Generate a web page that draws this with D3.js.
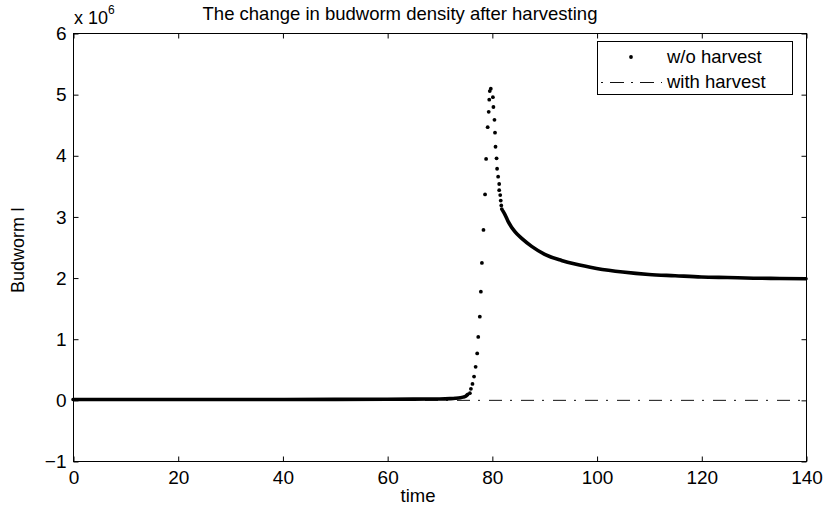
<!DOCTYPE html>
<html>
<head>
<meta charset="utf-8">
<script src="https://cdn.jsdelivr.net/npm/d3@7"></script>
<style>
  body { margin: 0; background: #fff; }
  svg { display: block; font-family: "Liberation Sans", Arial, sans-serif; }
</style>
</head>
<body>
<svg id="chart" width="826" height="506"></svg>
<script>
// budworm density I (x 10^6) vs time

// pre-outbreak part, dense dots (looks like a solid thick line)
var lowTime = [0, 10, 20, 30, 40, 50, 60, 65, 70, 72, 73, 74, 74.5, 75, 75.4];
var lowBud  = [0.005, 0.005, 0.006, 0.006, 0.007, 0.008, 0.01, 0.012, 0.015, 0.02, 0.025, 0.035, 0.045, 0.06, 0.09];

// outbreak, sparse dots that can be told apart
var peakTime = [75.8, 76.0, 76.3, 76.6, 76.9, 77.2, 77.4, 77.7, 77.9, 78.1, 78.4, 78.7, 78.9, 79.2, 79.4, 79.5, 79.6, 79.8,
                80.2, 80.3, 80.5, 80.6, 80.7, 80.9, 81.0, 81.2, 81.4, 81.4, 81.6, 81.7, 81.8, 81.9];
var peakBud  = [0.11, 0.18, 0.26, 0.38, 0.54, 0.76, 1.03, 1.36, 1.77, 2.24, 2.78, 3.36, 3.94, 4.46, 4.71, 4.91, 5.05, 5.09,
                4.95, 4.79, 4.58, 4.37, 4.14, 3.95, 3.78, 3.65, 3.53, 3.43, 3.35, 3.26, 3.18, 3.12];

// decay towards the steady state, dense dots again
var tailTime = [82.1, 82.5, 83.1, 84.4, 85.7, 87.6, 90.1, 93.3, 95.9, 100, 105, 110, 115, 120, 125, 130, 135, 140];
var tailBud  = [3.09, 3.03, 2.92, 2.75, 2.64, 2.51, 2.38, 2.28, 2.22, 2.15, 2.09, 2.05, 2.03, 2.01, 2.0, 1.99, 1.985, 1.98];

// with harvest: stays at zero
var harvestTime = [0, 140];
var harvestBud  = [0, 0];

var xTicks = [0, 20, 40, 60, 80, 100, 120, 140];
var yTicks = [-1, 0, 1, 2, 3, 4, 5, 6];

var svg = d3.select('#chart');
var plotL = 73, plotR = 806, plotT = 33, plotB = 461;

var x = d3.scaleLinear().domain([0, 140]).range([plotL, plotR]);
var y = d3.scaleLinear().domain([-1, 6]).range([plotB, plotT]);

// axes, MATLAB style ticks pointing inward on all four sides
svg.append('g')
    .attr('transform', 'translate(0.5,' + (plotB + 0.5) + ')')
    .call(d3.axisBottom(x).tickValues(xTicks).tickSize(-5).tickSizeOuter(0).tickPadding(9))
    .call(g => g.select('.domain').remove());
svg.append('g')
    .attr('transform', 'translate(0.5,' + (plotT + 0.5) + ')')
    .call(d3.axisTop(x).tickValues(xTicks).tickSize(-5).tickSizeOuter(0).tickFormat(''))
    .call(g => g.select('.domain').remove());
svg.append('g')
    .attr('transform', 'translate(' + (plotL + 0.5) + ',0.5)')
    .call(d3.axisLeft(y).tickValues(yTicks).tickFormat(d3.format('d')).tickSize(-5).tickSizeOuter(0).tickPadding(7))
    .call(g => g.select('.domain').remove());
svg.append('g')
    .attr('transform', 'translate(' + (plotR + 0.5) + ',0.5)')
    .call(d3.axisRight(y).tickValues(yTicks).tickSize(-5).tickSizeOuter(0).tickFormat(''))
    .call(g => g.select('.domain').remove());

svg.selectAll('.tick line').attr('stroke', '#000');
svg.selectAll('.tick text')
    .attr('fill', '#000')
    .style('font-size', '19px')
    .style('font-family', '"Liberation Sans", Arial, sans-serif');

svg.append('rect')
    .attr('x', plotL + 0.5)
    .attr('y', plotT + 0.5)
    .attr('width', plotR - plotL)
    .attr('height', plotB - plotT)
    .attr('fill', 'none')
    .attr('stroke', '#000')
    .attr('stroke-width', 1);

// with harvest, dash-dot
var line = d3.line().x(d => x(d[0])).y(d => y(d[1]) + 0.5);
var smooth = d3.line().x(d => x(d[0])).y(d => y(d[1])).curve(d3.curveMonotoneX);

svg.append('path')
    .datum(d3.zip(harvestTime, harvestBud))
    .attr('d', line)
    .attr('fill', 'none')
    .attr('stroke', '#111')
    .attr('stroke-width', 1)
    .attr('stroke-dasharray', '13,8,2,9');

// w/o harvest, dense stretches as thick round line, sparse ones as dots
[d3.zip(lowTime, lowBud), d3.zip(tailTime, tailBud)].forEach(seg => {
    svg.append('path')
        .datum(seg)
        .attr('d', smooth)
        .attr('fill', 'none')
        .attr('stroke', '#000')
        .attr('stroke-width', 3.6)
        .attr('stroke-linecap', 'round')
        .attr('stroke-linejoin', 'round');
});

svg.append('g')
    .selectAll('circle.dot')
    .data(d3.zip(peakTime, peakBud))
    .enter().append('circle')
        .attr('class', 'dot')
        .attr('cx', d => x(d[0]))
        .attr('cy', d => y(d[1]))
        .attr('r', 1.9)
        .attr('fill', '#000');

// texts
svg.append('text')
    .attr('x', 400)
    .attr('y', 20)
    .attr('text-anchor', 'middle')
    .style('font-size', '18.5px')
    .text('The change in budworm density after harvesting');

var exp = svg.append('text')
    .attr('x', 74)
    .attr('y', 24)
    .style('font-size', '18px');
exp.append('tspan').text('x 10');
exp.append('tspan').attr('dy', -10).style('font-size', '12px').text('6');

svg.append('text')
    .attr('x', 418)
    .attr('y', 502)
    .attr('text-anchor', 'middle')
    .style('font-size', '18.5px')
    .text('time');

svg.append('text')
    .attr('transform', 'translate(24,250) rotate(-90)')
    .attr('text-anchor', 'middle')
    .style('font-size', '18px')
    .text('Budworm I');

// legend
var legend = svg.append('g');
legend.append('rect')
    .attr('x', 597.5)
    .attr('y', 41.5)
    .attr('width', 195)
    .attr('height', 53)
    .attr('fill', '#fff')
    .attr('stroke', '#000');
legend.append('circle')
    .attr('cx', 631)
    .attr('cy', 57)
    .attr('r', 1.9)
    .attr('fill', '#000');
legend.append('line')
    .attr('x1', 601).attr('x2', 662)
    .attr('y1', 82.5).attr('y2', 82.5)
    .attr('stroke', '#111')
    .attr('stroke-dasharray', '2,7,14,7');
legend.append('text')
    .attr('x', 667)
    .attr('y', 63)
    .style('font-size', '18.5px')
    .text('w/o harvest');
legend.append('text')
    .attr('x', 667)
    .attr('y', 88)
    .style('font-size', '18.5px')
    .text('with harvest');
</script>
</body>
</html>
